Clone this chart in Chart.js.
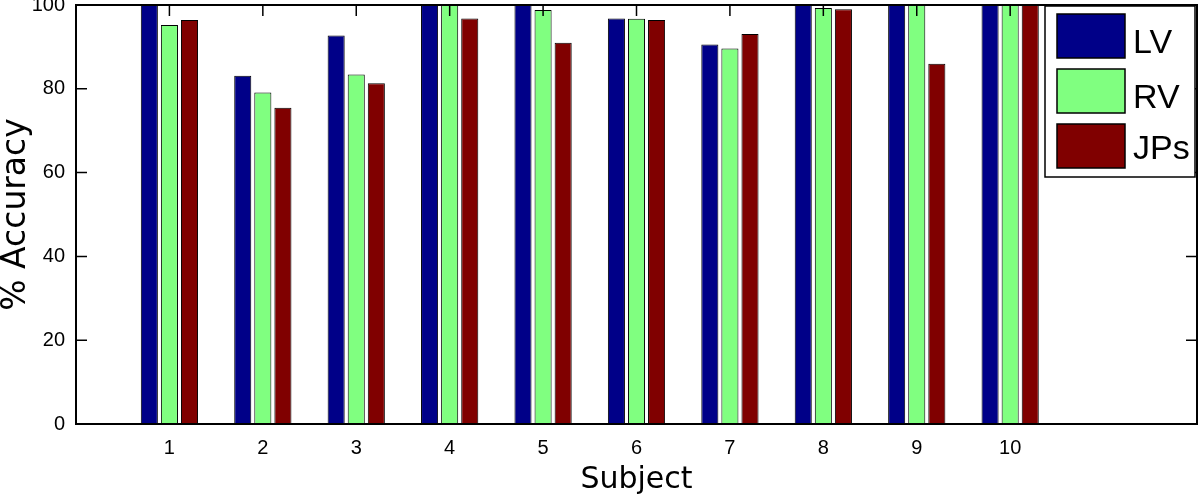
<!DOCTYPE html>
<html>
<head>
<meta charset="utf-8">
<script src="https://cdn.jsdelivr.net/npm/chart.js@4"></script>
<style>
  html, body { margin: 0; padding: 0; background: #fff; overflow: hidden; }
  #wrap { width: 1200px; height: 498px; }
</style>
</head>
<body>
<div id="wrap"><canvas id="accChart" width="1200" height="498"></canvas></div>
<script>
const subjects = ["1", "2", "3", "4", "5", "6", "7", "8", "9", "10"];
const lvAcc = [100, 83.1, 92.7, 100, 100, 96.8, 90.6, 100, 100, 100];
const rvAcc = [95.2, 79.1, 83.4, 100, 98.8, 96.7, 89.6, 99.3, 100, 100];
const jpsAcc = [96.4, 75.5, 81.3, 96.8, 91.0, 96.4, 93.1, 99.0, 86.0, 100];
const yTicks = [0, 20, 40, 60, 80, 100];
const seriesNames = ["LV", "RV", "JPs"];
const seriesColors = ["#000088", "#80ff80", "#800000"];

const FONT = "'Liberation Sans', Arial, Helvetica, sans-serif";
const TITLE_FONT = "'DejaVu Sans', Verdana, sans-serif";

function toPoints(values) {
    return values.map((v, i) => ({ x: i + 1, y: v }));
}

// axis box, inward ticks and the boxed legend, drawn MATLAB style
const matlabFrame = {
    id: "matlabFrame",
    afterDatasetsDraw(chart) {
        const ctx = chart.ctx;
        const a = chart.chartArea;
        const xs = chart.scales.x;
        const ys = chart.scales.y;
        ctx.save();
        ctx.strokeStyle = "#000";
        ctx.lineWidth = 2;
        ctx.strokeRect(a.left, a.top, a.right - a.left, a.bottom - a.top);

        ctx.lineWidth = 1.5;
        ctx.beginPath();
        subjects.forEach((s, i) => {
            let px = xs.getPixelForValue(i + 1);
            ctx.moveTo(px, a.top);
            ctx.lineTo(px, a.top + 11);
        });
        yTicks.forEach(t => {
            let py = ys.getPixelForValue(t);
            ctx.moveTo(a.left, py);
            ctx.lineTo(a.left + 11, py);
            ctx.moveTo(a.right, py);
            ctx.lineTo(a.right - 11, py);
        });
        ctx.stroke();

        // legend
        const lx = 1045, ly = 6, lw = 150, lh = 171;
        ctx.fillStyle = "#fff";
        ctx.fillRect(lx, ly, lw, lh);
        ctx.lineWidth = 1.5;
        ctx.strokeRect(lx, ly, lw, lh);
        const swatchTops = [14, 69, 124];
        const baselines = [53, 108, 159];
        ctx.font = "34px " + FONT;
        ctx.textBaseline = "alphabetic";
        ctx.textAlign = "left";
        seriesNames.forEach((name, i) => {
            ctx.fillStyle = seriesColors[i];
            ctx.fillRect(1057, swatchTops[i], 68, 44);
            ctx.strokeStyle = "#000";
            ctx.strokeRect(1057, swatchTops[i], 68, 44);
            ctx.fillStyle = "#000";
            ctx.fillText(name, 1133, baselines[i]);
        });
        ctx.restore();
    }
};

const ctx = document.getElementById("accChart").getContext("2d");

const chart = new Chart(ctx, {
    type: "bar",
    data: {
        datasets: [lvAcc, rvAcc, jpsAcc].map((vals, i) => ({
            label: seriesNames[i],
            data: toPoints(vals),
            backgroundColor: seriesColors[i],
            borderColor: "#000",
            borderWidth: 1,
            categoryPercentage: 0.645,
            barPercentage: 0.85
        }))
    },
    options: {
        responsive: false,
        animation: false,
        layout: { padding: { top: 5, right: 3, left: 0, bottom: 0 } },
        plugins: {
            legend: { display: false },
            tooltip: { enabled: false }
        },
        scales: {
            x: {
                type: "linear",
                offset: false,
                min: 0,
                max: 12,
                grid: { display: false, drawTicks: false },
                border: { display: false },
                ticks: {
                    stepSize: 1,
                    autoSkip: false,
                    maxRotation: 0,
                    padding: 12,
                    color: "#000",
                    font: { family: FONT, size: 20 },
                    callback: v => (v >= 1 && v <= subjects.length) ? subjects[v - 1] : ""
                },
                title: {
                    display: true,
                    text: "Subject",
                    color: "#000",
                    font: { family: TITLE_FONT, size: 30, lineHeight: 1 },
                    padding: { top: 0, bottom: 3 }
                },
                afterFit: s => {
                    s.height = 74;
                    s.paddingLeft = 0;
                    s.paddingRight = 0;
                }
            },
            y: {
                min: 0,
                max: 100,
                grid: { display: false, drawTicks: false },
                border: { display: false },
                afterBuildTicks: s => {
                    s.ticks = yTicks.map(v => ({ value: v }));
                },
                ticks: {
                    padding: 11,
                    color: "#000",
                    font: { family: FONT, size: 20 }
                },
                title: {
                    display: true,
                    text: "% Accuracy",
                    color: "#000",
                    font: { family: TITLE_FONT, size: 33, lineHeight: 1 },
                    padding: { top: 0, bottom: 0 }
                },
                afterFit: s => {
                    s.width = 76;
                    s.paddingTop = 0;
                    s.paddingBottom = 0;
                }
            }
        }
    },
    plugins: [matlabFrame]
});
</script>
</body>
</html>
